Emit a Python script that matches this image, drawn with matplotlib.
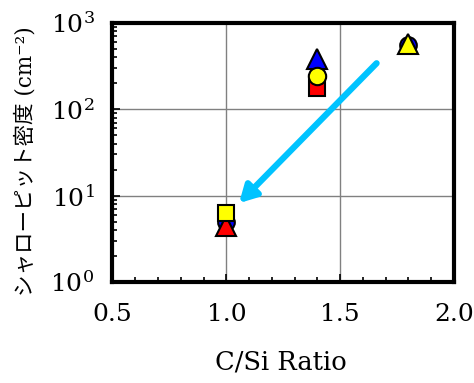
import matplotlib
matplotlib.use("Agg")
import matplotlib.pyplot as plt
from matplotlib.ticker import MultipleLocator, LogLocator, NullFormatter

# data
ratio_tri = [1.0, 1.4, 1.8]
tri_vals = [4.5, 385, 575]
tri_colors = ["red", "blue", "yellow"]
ratio_circ = [1.0, 1.4, 1.8]
circ_vals = [5.0, 244, 560]
circ_colors = ["blue", "yellow", "blue"]
ratio_sq = [1.0, 1.4]
sq_vals = [6.3, 179]
sq_colors = ["yellow", "red"]
arrow_start = (1.66, 342)
arrow_end = (1.056, 8.2)
x_ticks = [0.5, 1.0, 1.5, 2.0]
x_ticklabels = ["0.5", "1.0", "1.5", "2.0"]
y_ticks = [1, 10, 100, 1000]
y_ticklabels = [r"$10^0$", r"$10^1$", r"$10^2$", r"$10^3$"]

plt.rcParams['font.family'] = ['DejaVu Serif', 'Noto Sans CJK JP']
plt.rcParams['mathtext.fontset'] = 'dejavuserif'

fig = plt.figure(figsize=(4.74, 3.83), dpi=100)
ax = fig.add_axes([0.2373, 0.2637, 0.7205, 0.6762])
ax.set_yscale('log')
ax.set_xlim(0.5, 2.0)
ax.set_ylim(1, 1000)
ax.set_xticks(x_ticks)
ax.set_xticklabels(x_ticklabels)
ax.xaxis.set_minor_locator(MultipleLocator(0.1))
ax.set_yticks(y_ticks)
ax.set_yticklabels(y_ticklabels)
ax.yaxis.set_minor_locator(LogLocator(base=10, subs=range(2, 10)))
ax.yaxis.set_minor_formatter(NullFormatter())
ax.tick_params(which='major', direction='in', length=6, width=1.2, labelsize=18)
ax.tick_params(which='minor', direction='in', length=3.5, width=1.2)
ax.tick_params(axis='x', which='major', pad=15)
ax.tick_params(axis='y', which='major', pad=13)
ax.grid(True, which='major', color='#808080', lw=1.0)
ax.set_axisbelow(True)
for s in ax.spines.values():
    s.set_linewidth(3)

ax.annotate("", xy=arrow_end, xytext=arrow_start,
            arrowprops=dict(arrowstyle="-|>,head_length=1.0,head_width=0.55",
                            color="#00c3ff", lw=4.5, shrinkA=0, shrinkB=0), zorder=2)

mk = dict(mec='black', mew=1.5, ls='none')
# 1.0 group
ax.plot(ratio_circ[0], circ_vals[0], 'o', ms=12, mfc=circ_colors[0], zorder=3, **mk)
ax.plot(ratio_tri[0], tri_vals[0], '^', ms=14, mfc=tri_colors[0], zorder=4, **mk)
ax.plot(ratio_sq[0], sq_vals[0], 's', ms=12, mfc=sq_colors[0], zorder=5, **mk)
# 1.4 group
ax.plot(ratio_sq[1], sq_vals[1], 's', ms=12, mfc=sq_colors[1], zorder=3, **mk)
ax.plot(ratio_tri[1], tri_vals[1], '^', ms=14.5, mfc=tri_colors[1], zorder=4, **mk)
ax.plot(ratio_circ[1], circ_vals[1], 'o', ms=12.5, mfc=circ_colors[1], zorder=5, **mk)
# 1.8 group
ax.plot(ratio_circ[2], circ_vals[2], 'o', ms=12, mfc=circ_colors[2], zorder=3, **mk)
ax.plot(ratio_tri[2], tri_vals[2], '^', ms=14.5, mfc=tri_colors[2], zorder=4, **mk)

ax.set_xlabel("C/Si Ratio", fontsize=18.5)
ax.xaxis.label.set_va('center')
ax.xaxis.set_label_coords(0.493, -0.31)
ax.set_ylabel("シャローピット密度 (cm\u207b\u00b2)", fontsize=15.5)
ax.yaxis.label.set_va('center')
ax.yaxis.set_label_coords(-0.255, 0.465)

fig.savefig("out.png", dpi=100)
